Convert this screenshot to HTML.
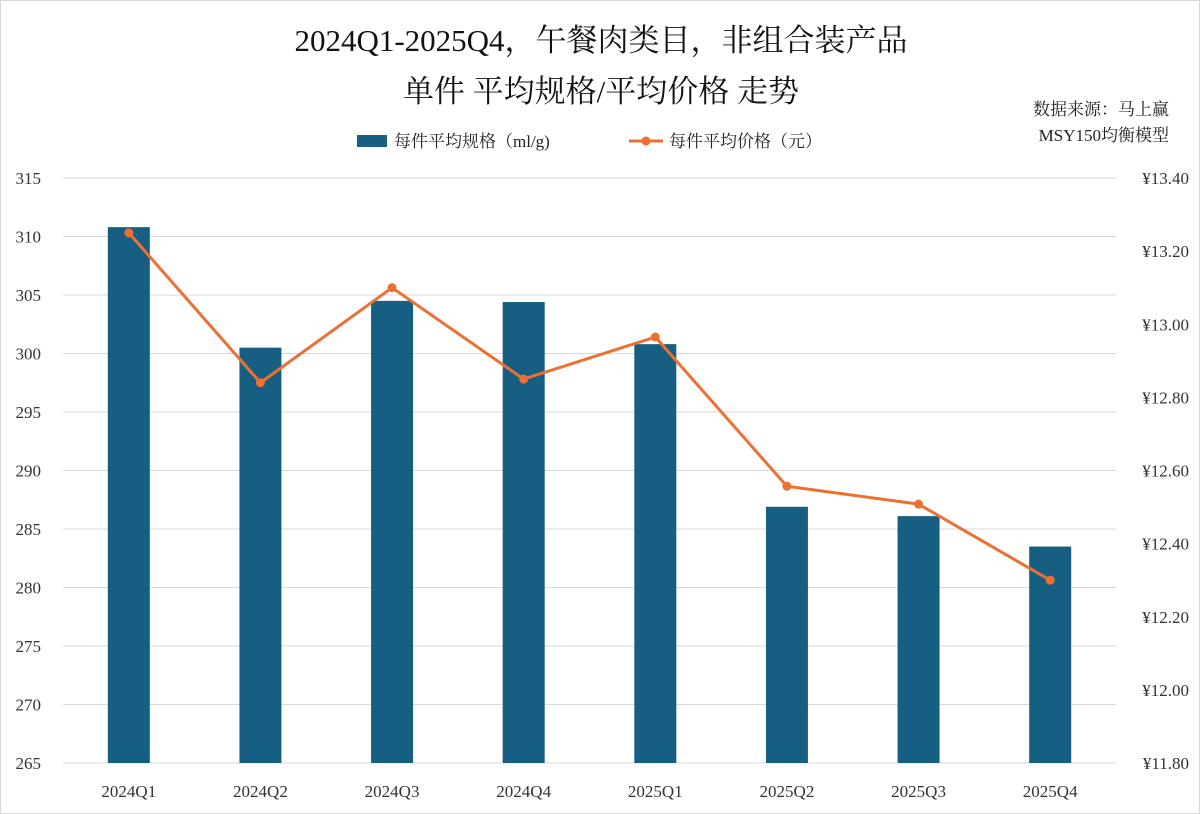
<!DOCTYPE html>
<html><head><meta charset="utf-8"><style>
body{margin:0;background:#fff;}
#wrap{position:relative;width:1200px;height:814px;overflow:hidden;border:1px solid #d9d9d9;box-sizing:border-box;font-family:"Liberation Serif","Noto Serif CJK SC",serif;}
</style></head><body>
<div id="wrap">
<svg id="chart" width="1200" height="814"></svg>
</div>
<script>
const categories=["2024Q1","2024Q2","2024Q3","2024Q4","2025Q1","2025Q2","2025Q3","2025Q4"];
const sizeValues=[310.8,300.5,304.5,304.4,300.8,286.9,286.1,283.5];
const priceValues=[13.25,12.84,13.10,12.85,12.965,12.557,12.508,12.30];
const leftTicks=[265,270,275,280,285,290,295,300,305,310,315];
const rightTicks=[11.8,12.0,12.2,12.4,12.6,12.8,13.0,13.2,13.4];

const NS="http://www.w3.org/2000/svg";
const svg=document.getElementById('chart');
const X0=62,X1=1115,Y0=762,Y1=177;
const yL=v=>Y0-(v-265)/(315-265)*(Y0-Y1);
const yR=v=>Y0-(v-11.8)/(13.4-11.8)*(Y0-Y1);
const bw=(X1-X0)/categories.length;
const xC=i=>X0+bw*(i+0.5);
function el(t,a,txt){const e=document.createElementNS(NS,t);for(const k in a)e.setAttribute(k,a[k]);if(txt!==undefined)e.textContent=txt;svg.appendChild(e);return e;}
const ff='"Liberation Serif","Noto Serif CJK SC",serif';

let e;
e=el('text',{x:600,y:50,'text-anchor':'middle','font-size':31,fill:'#111','font-family':ff},'2024Q1-2025Q4，午餐肉类目，非组合装产品');


e=el('text',{x:600,y:101,'text-anchor':'middle','font-size':31,fill:'#111','font-family':ff},'单件 平均规格/平均价格 走势');


e=el('text',{x:1168,y:114,'text-anchor':'end','font-size':17,fill:'#222','font-family':ff},'数据来源：马上赢');


e=el('text',{x:1168,y:140,'text-anchor':'end','font-size':17,fill:'#222','font-family':ff},'MSY150均衡模型');



e=el('rect',{x:356,y:134,width:30,height:12,fill:'#175f82'});


e=el('text',{x:393,y:146,'font-size':17,fill:'#222','font-family':ff},'每件平均规格（ml/g)');


e=el('line',{x1:628,y1:140,x2:662,y2:140,stroke:'#eb7031','stroke-width':3});


e=el('circle',{cx:645,cy:140,r:4.5,fill:'#eb7031'});


e=el('text',{x:668,y:146,'font-size':17,fill:'#222','font-family':ff},'每件平均价格（元）');



leftTicks.forEach(t=>{
  const y=yL(t);
  e=el('line',{x1:X0,x2:X1,y1:y,y2:y,stroke:'#d9d9d9','stroke-width':1});
  
  
  e=el('text',{x:40,y:y+6,'text-anchor':'end','font-size':17,fill:'#333','font-family':ff},String(t));
  
  
});
rightTicks.forEach(t=>{
  e=el('text',{x:1188,y:yR(t)+6,'text-anchor':'end','font-size':17,fill:'#333','font-family':ff},'¥'+t.toFixed(2));
  
  
});

categories.forEach((c,i)=>{
  const y=yL(sizeValues[i]);
  e=el('rect',{x:xC(i)-21,y:y,width:42,height:Y0-y,fill:'#175f82'});
  
  
  e=el('text',{x:xC(i),y:796,'text-anchor':'middle','font-size':17,fill:'#333','font-family':ff},c);
  
  
});

e=el('polyline',{points:priceValues.map((v,i)=>xC(i)+','+yR(v)).join(' '),fill:'none',stroke:'#eb7031','stroke-width':3,'stroke-linejoin':'round'});


priceValues.forEach((v,i)=>{
  e=el('circle',{cx:xC(i),cy:yR(v),r:4.5,fill:'#eb7031'});
  
  
});
</script>
</body></html>
